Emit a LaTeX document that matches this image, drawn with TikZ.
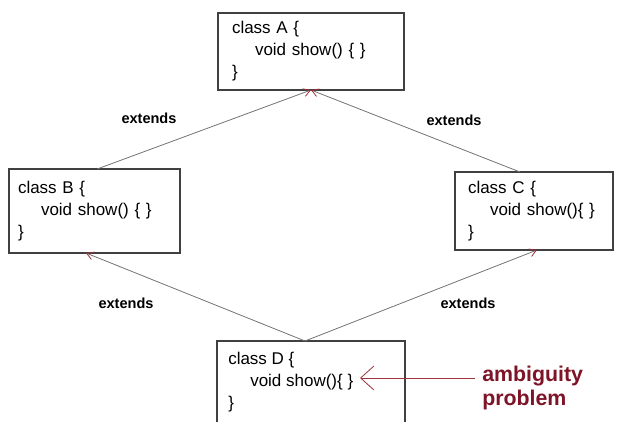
\documentclass[tikz,border=0pt]{standalone}
\usepackage{fontspec}
\setmainfont{Liberation Sans}
\usetikzlibrary{arrows.meta}
\definecolor{probred}{RGB}{125,20,40}
\definecolor{tipred}{RGB}{160,50,60}

\begin{document}
\begin{tikzpicture}[x=0.75pt, y=-0.75pt,
        classframe/.style={draw=black!75, line width=0.8pt, outer sep=0pt, anchor=north west},
        classbox/.style={classframe, align=left, inner ysep=0pt,
            font=\fontsize{12.75}{16.5}\selectfont},
        extline/.style={draw=black!55, line width=0.6pt,
            -{Straight Barb[length=5pt,width=6pt,color=tipred]}},
        extlabel/.style={font=\fontsize{10.9}{13}\selectfont\bfseries},
        ambline/.style={draw=tipred, line width=0.6pt, -{Straight Barb[length=10pt,width=18pt]}}]
            \useasboundingbox (0,0) rectangle (624,421);
            % the four classes
            \node[classbox, text width=118.5pt, inner xsep=10.5pt, minimum height=57.75pt] (a) at (218,13)
                {class A \{\\\hspace*{17.25pt}void show() \{ \}\\\}};
            \node[classbox, text width=114.75pt, inner xsep=6.75pt, minimum height=63pt] (b) at (9,169)
                {class B \{\\\hspace*{17.25pt}void show() \{ \}\\\}};
            \node[classbox, text width=99pt, inner xsep=9.75pt, minimum height=58.5pt] (c) at (455,172)
                {class C \{\\\hspace*{16.5pt}void show()\{ \}\\\}};
            \node[classframe, inner sep=0pt, minimum width=141pt, minimum height=74.25pt] (d) at (217,341) {};
            \node[align=left, anchor=north west, inner sep=0pt, font=\fontsize{12.75}{16.5}\selectfont] (dtext) at (228,352)
                {class D \{\\\hspace*{16.5pt}void show()\{ \}\\\}};
            % inheritance
            \draw[extline] ([xshift=2pt]b.north) -- (a.south);
            \draw[extline] ([xshift=-10.5pt]c.north) -- (a.south);
            \draw[extline] ([xshift=-4.5pt]d.north) -- ([xshift=-6.4pt]b.south);
            \draw[extline] ([xshift=-4.5pt]d.north) -- ([xshift=2.25pt]c.south);
            \node[extlabel] (ext1) at (149,118) {extends};
            \node[extlabel] (ext2) at (454,120) {extends};
            \node[extlabel] (ext3) at (126,303) {extends};
            \node[extlabel] (ext4) at (468,303) {extends};
            % the problem
            \coordinate (dshow) at (360,378);
            \node[align=left, anchor=north west, inner xsep=5.25pt, inner ysep=0pt, text=probred,
                font=\fontsize{16}{18}\selectfont\bfseries] (amb) at (475,366) {ambiguity\\problem};
            \draw[ambline] (amb.west |- dshow) -- (dshow);
    \end{tikzpicture}
\end{document}
